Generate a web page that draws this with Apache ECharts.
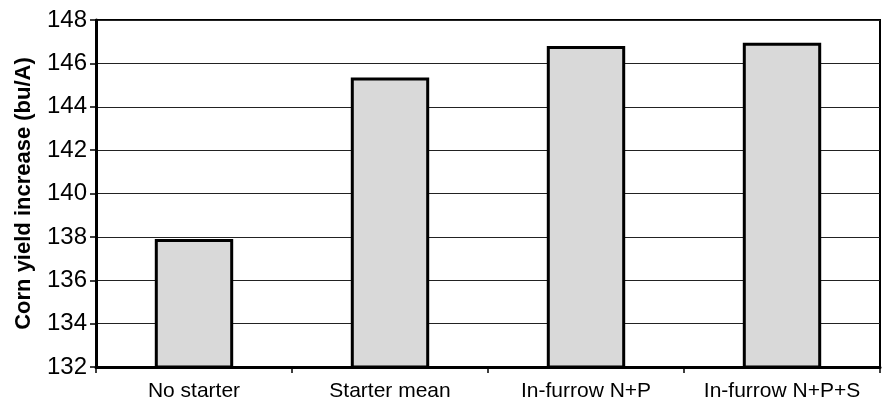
<!DOCTYPE html>
<html>
<head>
<meta charset="utf-8">
<script src="https://cdn.jsdelivr.net/npm/echarts@6/dist/echarts.min.js"></script>
<style>
  html, body { margin: 0; padding: 0; background: #fff; }
  #main { width: 887px; height: 411px; }
</style>
</head>
<body>
<div id="main"></div>
<script>
// values
var categories = ['No starter', 'Starter mean', 'In-furrow N+P', 'In-furrow N+P+S'];
var yieldValues = [137.9, 145.35, 146.8, 146.95];
var yTicks = { min: 132, max: 148, step: 2 };

var chart = echarts.init(document.getElementById('main'));
var font = "'Liberation Sans', Arial, sans-serif";

var option = {
  animation: false,
  grid: {
    left: 96,
    right: 7,
    top: 20,
    bottom: 44,
    show: true,
    borderColor: '#000',
    borderWidth: 2
  },
  xAxis: {
    type: 'category',
    data: categories,
    axisLine: { lineStyle: { color: '#000', width: 3 } },
    axisTick: { show: true, interval: 0, length: 6, lineStyle: { color: '#000', width: 1.5 } },
    axisLabel: { interval: 0, hideOverlap: false, color: '#000', fontSize: 21, fontFamily: font, margin: 14 }
  },
  yAxis: {
    type: 'value',
    min: yTicks.min,
    max: yTicks.max,
    interval: yTicks.step,
    name: 'Corn yield increase (bu/A)',
    nameLocation: 'middle',
    nameGap: 61,
    nameTextStyle: { color: '#000', fontSize: 22, fontWeight: 'bold', fontFamily: font },
    axisLine: { show: true, lineStyle: { color: '#000', width: 3 } },
    axisTick: { show: true, length: 6, lineStyle: { color: '#000', width: 1.5 } },
    axisLabel: { color: '#000', fontSize: 24, fontFamily: font, margin: 9 },
    splitLine: { show: true, lineStyle: { color: '#222', width: 1.2 } }
  },
  series: [
    {
      type: 'bar',
      data: yieldValues,
      barWidth: '40%',
      itemStyle: { color: '#d9d9d9', borderColor: '#000', borderWidth: 3 }
    }
  ]
};

chart.setOption(option);
</script>
</body>
</html>
